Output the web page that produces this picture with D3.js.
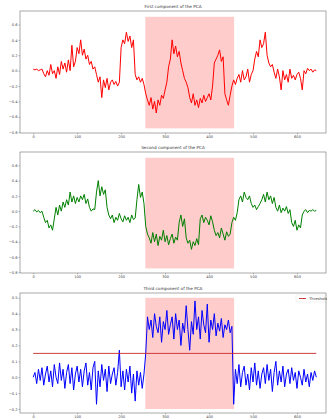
<!DOCTYPE html>
<html>
<head>
<meta charset="utf-8">
<script src="https://cdn.jsdelivr.net/npm/d3@7"></script>
<style>
  html, body { margin: 0; padding: 0; background: #fff; }
  svg { display: block; font-family: "DejaVu Sans", sans-serif; }
</style>
</head>
<body>
<svg id="chart"></svg>
<script>
// sampled every 4 steps, x = 0..644
const STEP = 4;
const firstComp = [
  0.02, 0.01, 0.02, 0.0, 0.01, 0.02,
  -0.04, -0.08, 0.0, -0.06, 0.08, -0.04,
  0.0, -0.1, 0.05, -0.05, 0.12, 0.02, 0.1, -0.02, 0.14, 0.0, 0.33, 0.05, 0.12,
  0.3, 0.22, 0.4, 0.2,
  0.28, 0.15, 0.2, 0.08, 0.12, 0.02, 0.05,
  -0.05, -0.15, -0.08, -0.35, -0.12, -0.22, -0.1, -0.25, -0.15,
  -0.12, -0.18, -0.14, -0.2, -0.15,
  0.3, 0.4, 0.35, 0.5, 0.38, 0.45, 0.3, 0.4,
  -0.05, -0.12, -0.08, -0.15, -0.1, -0.18,
  -0.3, -0.38, -0.45, -0.35, -0.5, -0.4, -0.55, -0.38, -0.45, -0.32, -0.36, -0.25,
  -0.15, 0.05, 0.15,
  0.4, 0.22, 0.32, 0.18, 0.25,
  0.1, 0.0, -0.1, -0.15, -0.22,
  -0.35, -0.42, -0.3, -0.45, -0.38, -0.48, -0.36, -0.42, -0.32, -0.4, -0.35, -0.3, -0.38,
  -0.2, 0.1, 0.15, 0.2, 0.27, 0.12, 0.18,
  -0.3, -0.38, -0.45, -0.32,
  -0.2, -0.12, -0.18, -0.1,
  -0.05, -0.15, 0.0, -0.12, -0.08, 0.02, -0.15, -0.05, 0.0,
  0.15, 0.25, 0.18, 0.4, 0.3, 0.35, 0.5,
  0.2, 0.1, 0.05, 0.08, -0.02,
  -0.1, 0.02, -0.08, -0.25, 0.0, -0.12, -0.05, -0.15, 0.02, -0.1, -0.06, -0.12, -0.05,
  -0.02, -0.1, -0.25,
  0.0, -0.04, 0.03, 0.0, 0.02, -0.02, 0.01, 0.0
];
const secondComp = [
  0.0, 0.02, -0.01, 0.01, -0.02, 0.0,
  -0.08, -0.15, -0.12, -0.22, -0.18, -0.25,
  -0.1, 0.05, -0.05, 0.08, 0.0, 0.12, 0.05,
  0.15, 0.08, 0.25, 0.12, 0.2, 0.1,
  0.18, 0.12, 0.2, 0.15, 0.22, 0.1, 0.16,
  0.05, 0.0, 0.03, 0.02,
  0.25, 0.4, 0.2, 0.32, 0.22, 0.28,
  0.05, -0.05,
  -0.1, -0.05, -0.15, -0.08, -0.12, -0.03, -0.1, -0.14, -0.06, -0.12, -0.08, -0.15, -0.05, -0.11, -0.09,
  0.15, 0.35, 0.18, 0.25, 0.1,
  -0.2, -0.3,
  -0.35, -0.42, -0.28, -0.4, -0.3, -0.45, -0.33, -0.38, -0.25, -0.4, -0.32, -0.44, -0.36, -0.3, -0.42, -0.34, -0.38,
  -0.15, -0.05, -0.2, -0.1,
  -0.35, -0.42, -0.38, -0.5, -0.4, -0.45, -0.36, -0.44,
  -0.1, -0.05, -0.15, -0.08, -0.12, -0.18, -0.06, -0.14,
  -0.25, -0.32, -0.28, -0.35, -0.22, -0.3, -0.38, -0.27, -0.33, -0.3,
  -0.15, -0.08, -0.12, -0.02,
  0.15, 0.2, 0.12, 0.25, 0.18, 0.15, 0.2, 0.1,
  0.05, 0.08, 0.02, 0.06, 0.1,
  0.15, 0.22, 0.12, 0.25, 0.15, 0.2, 0.1, 0.18,
  0.05, 0.0, 0.08, -0.02, 0.04, 0.0, 0.06, -0.03, 0.02,
  -0.15, -0.2, -0.12, -0.25, -0.18, -0.22,
  -0.05, 0.0, 0.02, -0.02, 0.01, 0.0, 0.02, 0.0, 0.01
];
const thirdComp = [
  0.0, 0.03, -0.04, 0.05, -0.02, 0.06, -0.05, 0.02, 0.07, -0.03, 0.04, -0.06, 0.08, 0.0, -0.04, 0.09,
  -0.02, 0.05, -0.07, 0.03, 0.08, -0.04, 0.06, -0.08, 0.02, 0.07, -0.03, 0.05, -0.06, 0.04, 0.09, -0.05,
  0.03, -0.08, 0.06, 0.1, -0.17, 0.04, -0.06, 0.08, -0.02, 0.05, -0.09, 0.07, -0.04, 0.02, 0.06, -0.05,
  0.03, 0.17, -0.06, 0.04, -0.08, 0.05, -0.03, 0.07, -0.1, 0.02, -0.15, 0.04, -0.05, 0.03, -0.07, 0.02,
  0.15, 0.38, 0.3, 0.36, 0.25, 0.4, 0.32, 0.28, 0.38, 0.22, 0.35, 0.3, 0.42, 0.27, 0.33, 0.38, 0.24, 0.4, 0.3, 0.36, 0.2, 0.34, 0.28, 0.45, 0.3,
  0.17, 0.35, 0.27, 0.48, 0.3, 0.38, 0.24, 0.42, 0.33, 0.28, 0.46, 0.22, 0.36, 0.3, 0.4, 0.26, 0.34, 0.29, 0.37, 0.25, 0.33, 0.3, 0.36, 0.28, 0.32,
  -0.17, 0.05, -0.04, 0.08, -0.06, 0.03, 0.07, -0.05, 0.02, -0.08, 0.06, -0.03, 0.09, -0.05, 0.04, -0.07,
  0.02, 0.06, -0.04, 0.08, -0.02, 0.05, -0.09, 0.03, 0.1, -0.05, 0.04, -0.03, 0.07, -0.06, 0.02, 0.05,
  -0.04, 0.06, -0.02, 0.03, -0.07, 0.04, 0.0, -0.05, 0.05, -0.03, 0.02, -0.06, 0.03, -0.02, 0.04, 0.0
];
const titles = ["First component of the PCA", "Second component of the PCA", "Third component of the PCA"];
const xTicks = [0, 100, 200, 300, 400, 500, 600];
const yTicks12 = [-0.8, -0.6, -0.4, -0.2, 0.0, 0.2, 0.4, 0.6];
const yTicks3 = [-0.2, -0.1, 0.0, 0.1, 0.2, 0.3, 0.4, 0.5];
const spanX = [255, 457];
const threshold = 0.15;

const W = 327, H = 418;
const svg = d3.select("#chart").attr("width", W).attr("height", H);

const x = d3.scaleLinear().domain([-30, 666]).range([20, 326]);

const panels = [
  { data: firstComp, color: "#ff0000", top: 11, bottom: 133, yDom: [-0.81, 0.775], ticks: yTicks12, span: [-0.75, 0.7] },
  { data: secondComp, color: "#008000", top: 152, bottom: 273, yDom: [-0.81, 0.775], ticks: yTicks12, span: [-0.75, 0.7] },
  { data: thirdComp, color: "#0000ff", top: 293, bottom: 413, yDom: [-0.225, 0.53], ticks: yTicks3, span: [-0.2, 0.5] }
];

panels.forEach((p, i) => {
  const y = d3.scaleLinear().domain(p.yDom).range([p.bottom, p.top]);
  const g = svg.append("g");

  // shaded window
  g.append("rect")
    .attr("x", x(spanX[0])).attr("width", x(spanX[1]) - x(spanX[0]))
    .attr("y", y(p.span[1])).attr("height", y(p.span[0]) - y(p.span[1]))
    .attr("fill", "#ff0000").attr("fill-opacity", 0.2);

  const line = d3.line().x((d, k) => x(k * STEP)).y(d => y(d));
  g.append("path").datum(p.data)
    .attr("d", line).attr("fill", "none")
    .attr("stroke", p.color).attr("stroke-width", 1.0).attr("stroke-linejoin", "round");

  if (i === 2) {
    g.append("path").datum([0, (p.data.length - 1) * STEP])
      .attr("d", d3.line().x(d => x(d)).y(() => y(threshold)))
      .attr("stroke", "#c8282a").attr("stroke-width", 0.9).attr("fill", "none");
    // legend
    const lg = g.append("g").attr("transform", `translate(296, ${p.top + 2})`);
    lg.append("rect").attr("width", 34).attr("height", 7)
      .attr("fill", "#fff").attr("fill-opacity", 0.8)
      .attr("stroke", "#ddd").attr("stroke-width", 0.4).attr("rx", 1);
    lg.append("line").attr("x1", 3).attr("x2", 10).attr("y1", 3.5).attr("y2", 3.5)
      .attr("stroke", "#c8282a").attr("stroke-width", 0.9);
    lg.append("text").attr("x", 13).attr("y", 5).attr("font-size", 3.8).attr("fill", "#333").text("Threshold");
  }

  // axes
  const ax = g.append("g").attr("transform", `translate(0,${p.bottom})`)
    .call(d3.axisBottom(x).tickValues(xTicks).tickSize(1.5).tickPadding(0.5).tickFormat(d3.format("d")));
  const ay = g.append("g").attr("transform", `translate(20,0)`)
    .call(d3.axisLeft(y).tickValues(p.ticks).tickSize(1.5).tickPadding(1).tickFormat(d3.format(".1f")));
  [ax, ay].forEach(a => {
    a.select(".domain").remove();
    a.selectAll("line").attr("stroke", "#555").attr("stroke-width", 0.4);
    a.selectAll("text").attr("font-size", 3.6).attr("fill", "#444").attr("font-family", "DejaVu Sans");
  });

  // frame
  g.append("rect").attr("x", 20).attr("y", p.top)
    .attr("width", 306).attr("height", p.bottom - p.top)
    .attr("fill", "none").attr("stroke", "#555").attr("stroke-width", 0.5);

  g.append("text").attr("x", 173).attr("y", p.top - 3)
    .attr("text-anchor", "middle").attr("font-size", 4.2).attr("fill", "#333")
    .text(titles[i]);
});
</script>
</body>
</html>
